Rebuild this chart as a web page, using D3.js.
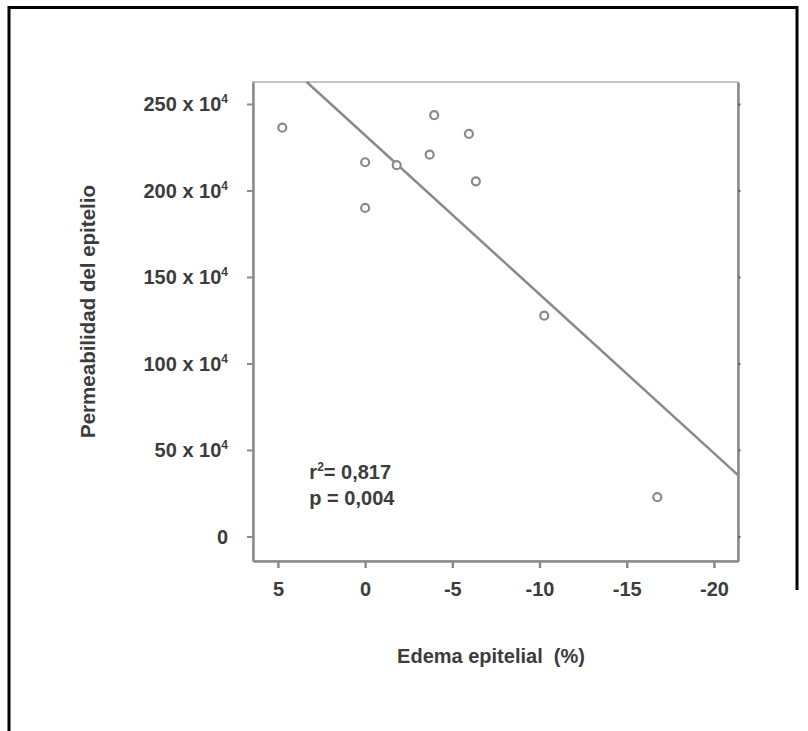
<!DOCTYPE html>
<html>
<head>
<meta charset="utf-8">
<script src="https://cdn.jsdelivr.net/npm/d3@7"></script>
<style>
  body { margin: 0; background: #fff; }
  text { font-family: "Liberation Sans", Arial, sans-serif; font-weight: bold; fill: #3c3c3c; }
</style>
</head>
<body>
<div id="chart"></div>
<script>
// Data
const edema = [4.75, 0, 0, -1.81, -3.70, -3.96, -5.95, -6.35, -10.27, -16.75];
const permeab = [236.3, 216.3, 189.9, 214.6, 220.7, 243.5, 232.7, 205.3, 127.6, 22.7];
const xTicks = [5, 0, -5, -10, -15, -20];
const yTicks = [0, 50, 100, 150, 200, 250];
// fitted line y = a + b*x
const fit = { a: 231.9, b: 9.19 };
const stats = ["r", "= 0,817", "p = 0,004"];

const W = 808, H = 731;
const plot = { left: 253, top: 82, right: 738, bottom: 561 };

const svg = d3.select("#chart")
  .append("svg")
    .attr("width", W)
    .attr("height", H);

// outer frame (open at the bottom)
svg.append("path")
  .attr("d", `M9,${H} L9,7.5 L797,7.5 L797,590`)
  .attr("fill", "none")
  .attr("stroke", "#000")
  .attr("stroke-width", 3);

const x = d3.scaleLinear().domain([6.43, -21.38]).range([plot.left, plot.right]);
const y = d3.scaleLinear().domain([-14.2, 262.7]).range([plot.bottom, plot.top]);

const gray = "#8a8a8a";

// box around plot
svg.append("rect")
  .attr("x", plot.left)
  .attr("y", plot.top)
  .attr("width", plot.right - plot.left)
  .attr("height", plot.bottom - plot.top)
  .attr("fill", "none")
  .attr("stroke", "#b0b0b0")
  .attr("stroke-width", 1.5);

// bottom axis
const xAxis = svg.append("g")
  .attr("transform", `translate(0,${plot.bottom})`)
  .call(d3.axisBottom(x).tickValues(xTicks).tickSizeInner(7).tickSizeOuter(0).tickPadding(14).tickFormat(d => d));
xAxis.select(".domain").attr("stroke", gray).attr("stroke-width", 2.5);
xAxis.selectAll(".tick line").attr("stroke", gray).attr("stroke-width", 2.5);
xAxis.selectAll(".tick text").style("font-size", "20px").attr("fill", "#3c3c3c");

// left axis
const yAxis = svg.append("g")
  .attr("transform", `translate(${plot.left},0)`)
  .call(d3.axisLeft(y).tickValues(yTicks).tickSizeInner(6).tickSizeOuter(0).tickFormat(""));
yAxis.select(".domain").attr("stroke", gray).attr("stroke-width", 2.5);
yAxis.selectAll(".tick line").attr("stroke", gray).attr("stroke-width", 2);

// y tick labels "N x 10^4"
yAxis.selectAll(".tick").each(function(d) {
  const t = d3.select(this).append("text")
    .attr("x", -25)
    .attr("dy", "0.35em")
    .attr("text-anchor", "end")
    .style("font-size", "20px");
  if (d === 0) {
    t.text("0");
  } else {
    t.append("tspan").text(d + " x 10");
    t.append("tspan").text("4").style("font-size", "12px").attr("dy", "-0.7em");
  }
});

// right axis with small outward ticks
const rAxis = svg.append("g")
  .attr("transform", `translate(${plot.right},0)`)
  .call(d3.axisRight(y).tickValues(yTicks).tickSizeInner(2.5).tickSizeOuter(0).tickFormat(""));
rAxis.select(".domain").attr("stroke", gray).attr("stroke-width", 2.5);
rAxis.selectAll(".tick line").attr("stroke", "#666").attr("stroke-width", 2);

// regression line, clipped to the plot box
const [y0, y1] = y.domain();
const xTop = (y1 - fit.a) / fit.b;
const xEnd = x.domain()[1];
svg.append("line")
  .attr("x1", x(xTop)).attr("y1", y(y1))
  .attr("x2", x(xEnd)).attr("y2", y(fit.a + fit.b * xEnd))
  .attr("stroke", gray)
  .attr("stroke-width", 2.5);

// points
svg.selectAll("circle.pt")
  .data(d3.zip(edema, permeab))
  .enter().append("circle")
    .attr("class", "pt")
    .attr("cx", d => x(d[0]))
    .attr("cy", d => y(d[1]))
    .attr("r", 4)
    .attr("fill", "#fff")
    .attr("stroke", gray)
    .attr("stroke-width", 2.2);

// stats annotation
const s1 = svg.append("text")
  .attr("x", x(3.2))
  .attr("y", 479)
  .style("font-size", "20px");
s1.append("tspan").text(stats[0]);
s1.append("tspan").text("2").style("font-size", "12px").attr("dy", "-0.7em");
s1.append("tspan").text(stats[1]).attr("dy", "0.42em");

svg.append("text")
  .attr("x", x(3.2))
  .attr("y", 505)
  .style("font-size", "20px")
  .text(stats[2]);

// axis titles
svg.append("text")
  .attr("x", 491)
  .attr("y", 663)
  .attr("text-anchor", "middle")
  .style("font-size", "20px")
  .attr("xml:space", "preserve")
  .text("Edema epitelial  (%)");

svg.append("text")
  .attr("transform", `translate(95,${(plot.top + plot.bottom) / 2 - 10}) rotate(-90)`)
  .attr("text-anchor", "middle")
  .style("font-size", "20.5px")
  .text("Permeabilidad del epitelio");
</script>
</body>
</html>
